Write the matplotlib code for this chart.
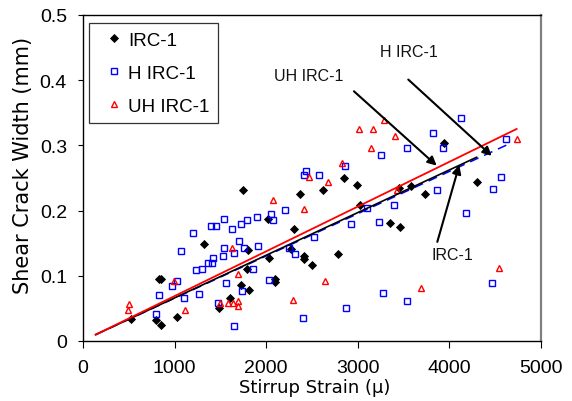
import matplotlib
matplotlib.use("Agg")
import matplotlib.pyplot as plt

plt.rcParams['font.family'] = ['Liberation Sans', 'DejaVu Sans']

# ---- data ----
irc_x = [1743, 2372, 2016, 2307, 1325, 1798, 2267, 2413, 2413, 2500, 2027, 1795,
         826, 851, 2096, 2096, 1728, 1816, 1605, 1481, 524, 800, 851, 1030,
         2846, 2991, 2620, 3446, 3581, 3737, 4298, 3024, 3351, 3457, 2780, 3944]
irc_y = [0.232, 0.225, 0.187, 0.171, 0.149, 0.140, 0.141, 0.130, 0.125, 0.117, 0.127, 0.110,
         0.095, 0.095, 0.095, 0.090, 0.086, 0.078, 0.066, 0.051, 0.034, 0.032, 0.025, 0.037,
         0.250, 0.240, 0.232, 0.235, 0.238, 0.225, 0.244, 0.208, 0.181, 0.175, 0.134, 0.304]

hirc_x = [2431, 2416, 2580, 2209, 2052, 2071, 1896, 1790, 1721, 1543, 1397, 1455, 1630,
          1197, 1073, 1700, 1543, 1648, 1754, 1911, 1423, 1528, 1368, 1408, 1299, 1234,
          1859, 2245, 2314, 2525, 1026, 968, 830, 1106, 1266, 1561, 1736, 1470, 2031,
          794, 1648, 2402,
          2860, 2926, 3104, 3228, 3399, 3868, 4185, 4480, 4567, 2875, 3279, 3537, 4465,
          4130, 3817, 3537, 3257, 3926, 4621]
hirc_y = [0.260, 0.255, 0.255, 0.201, 0.195, 0.185, 0.190, 0.185, 0.180, 0.187, 0.177, 0.177, 0.172,
          0.165, 0.138, 0.153, 0.143, 0.135, 0.143, 0.145, 0.128, 0.130, 0.119, 0.119, 0.111, 0.109,
          0.111, 0.143, 0.133, 0.160, 0.092, 0.084, 0.070, 0.066, 0.072, 0.089, 0.077, 0.059, 0.094,
          0.042, 0.023, 0.035,
          0.268, 0.180, 0.204, 0.183, 0.209, 0.231, 0.197, 0.233, 0.251, 0.050, 0.074, 0.062, 0.089,
          0.342, 0.319, 0.296, 0.285, 0.296, 0.310]

uhirc_x = [2464, 2078, 2409, 1623, 1692, 997, 1117, 506, 488, 1499, 1583, 1641, 1696, 1692, 2289,
           2831, 2675, 3425, 2638, 3690, 4541,
           3010, 3162, 3286, 3406, 3144, 4734]
uhirc_y = [0.252, 0.217, 0.202, 0.143, 0.102, 0.092, 0.048, 0.056, 0.048, 0.058, 0.058, 0.058, 0.062, 0.053, 0.063,
           0.273, 0.244, 0.232, 0.092, 0.082, 0.112,
           0.325, 0.325, 0.339, 0.315, 0.296, 0.310]

# trend lines (start / end points)
trend_names = ['H IRC-1', 'IRC-1', 'UH IRC-1']
trend_x0 = [138, 138, 138]
trend_y0 = [0.0097, 0.0097, 0.0097]
trend_x1 = [4625, 4297, 4734]
trend_y1 = [0.3006, 0.2818, 0.3252]

# annotations: label, text position, arrow tail, arrow head
ann_labels = ['UH IRC-1', 'H IRC-1', 'IRC-1']
ann_text_x = [2466, 3557, 4031]
ann_text_y = [0.407, 0.444, 0.133]
ann_tail_x = [2958, 3551, 3868]
ann_tail_y = [0.383, 0.401, 0.152]
ann_head_x = [3861, 4462, 4108]
ann_head_y = [0.269, 0.284, 0.270]

xticks = [0, 1000, 2000, 3000, 4000, 5000]
yticks = [0, 0.1, 0.2, 0.3, 0.4, 0.5]
yticklabels = ['0', '0.1', '0.2', '0.3', '0.4', '0.5']

# ---- figure ----
fig = plt.figure(figsize=(5.72, 4.02), dpi=100)
ax = fig.add_axes([0.1451, 0.1493, 0.8007, 0.8109])

ax.plot(irc_x, irc_y, linestyle='none', marker='D', markersize=3.8,
        markerfacecolor='black', markeredgecolor='black', markeredgewidth=0.6,
        label='IRC-1', zorder=2)
ax.plot(hirc_x, hirc_y, linestyle='none', marker='s', markersize=3.8,
        markerfacecolor='none', markeredgecolor='#0000FF', markeredgewidth=1.0,
        label='H IRC-1', zorder=2)
ax.plot(uhirc_x, uhirc_y, linestyle='none', marker='^', markersize=4.8,
        markerfacecolor='none', markeredgecolor='#FF0000', markeredgewidth=1.0,
        label='UH IRC-1', zorder=2)

trend_styles = {
    'H IRC-1': dict(color='#0000FF', lw=1.1, ls=(0, (6, 4))),
    'IRC-1': dict(color='black', lw=1.2, ls='-'),
    'UH IRC-1': dict(color='#FF0000', lw=1.3, ls='-'),
}
for name, x0, y0, x1, y1 in zip(trend_names, trend_x0, trend_y0, trend_x1, trend_y1):
    ax.plot([x0, x1], [y0, y1], zorder=3, **trend_styles[name])

for lab, tx, ty, ax0, ay0, hx, hy in zip(ann_labels, ann_text_x, ann_text_y,
                                         ann_tail_x, ann_tail_y, ann_head_x, ann_head_y):
    ax.text(tx, ty, lab, ha='center', va='center', fontsize=11.5, color='#111111')
    ax.annotate('', xy=(hx, hy), xytext=(ax0, ay0),
                arrowprops=dict(arrowstyle='-|>', color='black', lw=1.5,
                                mutation_scale=13, shrinkA=0, shrinkB=0),
                zorder=4)

ax.set_xlim(0, 5000)
ax.set_ylim(0, 0.5)
ax.set_xticks(xticks)
ax.set_xticklabels([str(t) for t in xticks])
ax.set_yticks(yticks)
ax.set_yticklabels(yticklabels)
ax.tick_params(axis='x', direction='out', length=5, width=0.8, pad=8, labelsize=14)
ax.tick_params(axis='y', direction='out', length=3.6, width=0.8, pad=8, labelsize=14)

for s in ['left', 'bottom', 'top']:
    ax.spines[s].set_color('black')
    ax.spines[s].set_linewidth(1.0)
ax.spines['right'].set_color('#808080')
ax.spines['right'].set_linewidth(1.6)

ax.set_xlabel('Stirrup Strain (μ)', fontsize=13, family=['DejaVu Sans'])
ax.set_ylabel('Shear Crack Width (mm)', fontsize=15, family=['DejaVu Sans'])
ax.xaxis.set_label_coords(0.5066, -0.115)
ax.yaxis.set_label_coords(-0.109, 0.543)

leg = ax.legend(loc='upper left', bbox_to_anchor=(0.0138, 0.9745), borderaxespad=0,
                fontsize=13.5, frameon=True, fancybox=False, edgecolor='black',
                borderpad=0.45, handlelength=1.7, handletextpad=-0.1, labelspacing=0.84,
                markerscale=1.0)
leg.get_frame().set_linewidth(0.9)

fig.savefig('out.png', dpi=100, facecolor='white')
